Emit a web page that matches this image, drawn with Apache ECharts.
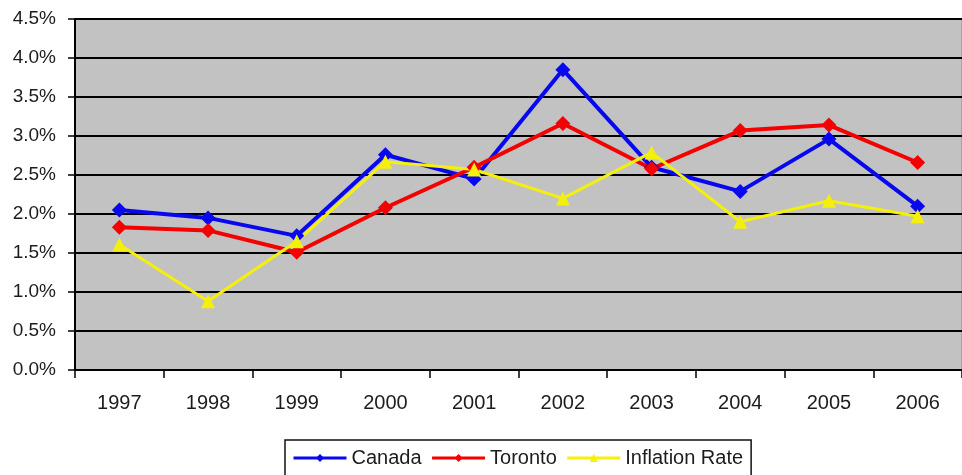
<!DOCTYPE html>
<html>
<head>
<meta charset="utf-8">
<script src="https://cdn.jsdelivr.net/npm/echarts@6/dist/echarts.min.js"></script>
<style>
  html, body { margin: 0; padding: 0; background: #fff; }
  #chart { width: 962px; height: 475px; }
</style>
</head>
<body>
<div id="chart"></div>
<script>
// Annual growth rates (percent), 1997-2006
const years = ['1997', '1998', '1999', '2000', '2001', '2002', '2003', '2004', '2005', '2006'];
const canada = [2.05, 1.95, 1.72, 2.76, 2.45, 3.85, 2.6, 2.29, 2.96, 2.1];
const toronto = [1.83, 1.79, 1.51, 2.08, 2.6, 3.16, 2.58, 3.07, 3.14, 2.66];
const inflation = [1.61, 0.88, 1.65, 2.67, 2.57, 2.2, 2.79, 1.9, 2.17, 1.97];
const yTicks = { min: 0, max: 4.5, step: 0.5 };

const font = 'Liberation Sans, Arial, sans-serif';
const chart = echarts.init(document.getElementById('chart'), null, { renderer: 'canvas' });

function lineSeries(name, data, color, symbol, size, width) {
  return {
    name, type: 'line', data,
    symbol, symbolSize: size,
    lineStyle: { color, width },
    itemStyle: { color },
    emphasis: { disabled: true },
    animation: false
  };
}

chart.setOption({
  backgroundColor: '#ffffff',
  animation: false,
  grid: {
    left: 75, top: 19, right: -8, bottom: 105,
    show: true, backgroundColor: '#c2c2c2',
    borderColor: '#8a8a8a', borderWidth: 1
  },
  legend: {
    data: ['Canada', 'Toronto', 'Inflation Rate'],
    left: 285, top: 440,
    padding: [8, 8, 20, 7],
    itemGap: 9, itemWidth: 53, itemHeight: 10,
    lineStyle: { width: 3 },
    borderColor: '#111', borderWidth: 1.5,
    backgroundColor: '#fff',
    textStyle: { fontFamily: font, fontSize: 20, color: '#1c1c1c' }
  },
  xAxis: {
    type: 'category', data: years, boundaryGap: true,
    axisLine: { lineStyle: { color: '#000', width: 2 } },
    axisTick: { show: true, interval: 0, length: 8, lineStyle: { color: '#000', width: 1.5 } },
    axisLabel: { interval: 0, margin: 23, fontFamily: font, fontSize: 20, color: '#1c1c1c' },
    splitLine: { show: false }
  },
  yAxis: {
    type: 'value', min: yTicks.min, max: yTicks.max, interval: yTicks.step,
    axisLine: { show: true, lineStyle: { color: '#000', width: 2 } },
    axisTick: { show: true, length: 7, lineStyle: { color: '#000', width: 1.5 } },
    axisLabel: { margin: 19, fontFamily: font, fontSize: 19, color: '#1c1c1c',
      formatter: v => v.toFixed(1) + '%' },
    splitLine: { show: true, lineStyle: { color: '#000', width: 2 } }
  },
  series: [
    lineSeries('Canada', canada, '#0808ee', 'diamond', 15, 4),
    lineSeries('Toronto', toronto, '#f40000', 'diamond', 15, 4),
    lineSeries('Inflation Rate', inflation, '#f5f00a', 'triangle', 14, 3)
  ]
});
</script>
</body>
</html>
